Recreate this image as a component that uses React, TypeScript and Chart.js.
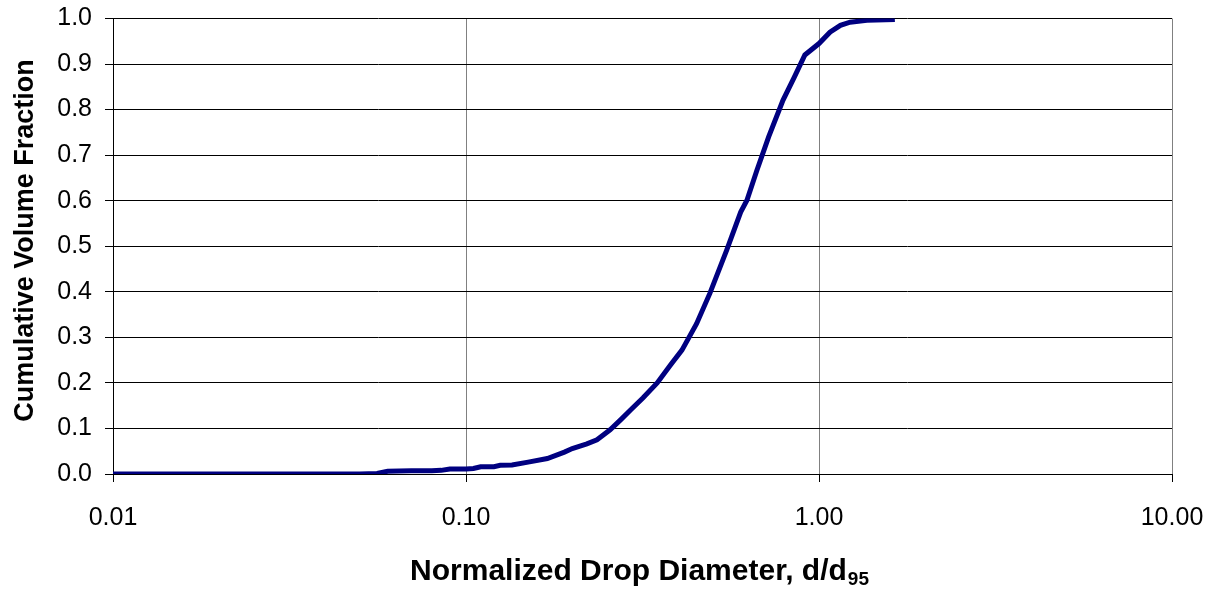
import { useEffect, useRef } from 'react';
import { Chart, registerables } from 'chart.js';

Chart.register(...registerables);

const diameters = [
  0.01, 0.02, 0.03, 0.04, 0.05, 0.056, 0.06, 0.07, 0.08, 0.085, 0.09, 0.1, 0.105, 0.11, 0.12,
  0.125, 0.135, 0.15, 0.17, 0.19, 0.2, 0.22, 0.235, 0.256, 0.275, 0.292, 0.317, 0.348, 0.38,
  0.409, 0.45, 0.491, 0.548, 0.6, 0.625, 0.667, 0.72, 0.791, 0.85, 0.912, 1.0, 1.074, 1.15,
  1.225, 1.367, 1.64,
];
const cumulative = [
  0, 0, 0, 0, 0, 0.001, 0.006, 0.007, 0.007, 0.008, 0.011, 0.011, 0.012, 0.016, 0.016,
  0.019, 0.02, 0.026, 0.034, 0.048, 0.056, 0.066, 0.075, 0.097, 0.12, 0.14, 0.167, 0.2, 0.24,
  0.272, 0.33, 0.397, 0.492, 0.575, 0.601, 0.667, 0.74, 0.821, 0.87, 0.92, 0.945, 0.97, 0.985,
  0.992, 0.996, 0.998,
];
const xTickValues = [0.01, 0.1, 1, 10];
const yTitle = 'Cumulative Volume Fraction';
const xTitleMain = 'Normalized Drop Diameter, d/d';
const xTitleSub = '95';

const FONT = "'Liberation Sans', Arial, sans-serif";

export default function App() {
  const ref = useRef<HTMLCanvasElement | null>(null);
  useEffect(() => {
    if (!ref.current) return;
    const titlesPlugin = {
      id: 'axisTitles',
      afterDraw(chart: any) {
        const ctx = chart.ctx;
        ctx.save();
        ctx.fillStyle = '#000';
        // x-axis title with subscript
        ctx.textBaseline = 'alphabetic';
        ctx.textAlign = 'left';
        ctx.font = `bold 30px ${FONT}`;
        const w1 = ctx.measureText(xTitleMain).width;
        ctx.font = `bold 19px ${FONT}`;
        const w2 = ctx.measureText(xTitleSub).width;
        const x0 = 639 - (w1 + w2) / 2;
        const base = 580;
        ctx.font = `bold 30px ${FONT}`;
        ctx.fillText(xTitleMain, x0, base);
        ctx.font = `bold 19px ${FONT}`;
        ctx.fillText(xTitleSub, x0 + w1 + 1, base + 5);
        // y-axis title
        ctx.translate(33, 240.5);
        ctx.rotate(-Math.PI / 2);
        ctx.textAlign = 'center';
        ctx.textBaseline = 'alphabetic';
        ctx.font = `bold 27px ${FONT}`;
        ctx.fillText(yTitle, 0, 0);
        ctx.restore();
      },
    };
    const chart = new Chart(ref.current, {
      type: 'line',
      data: {
        datasets: [
          {
            data: diameters.map((d, i) => ({ x: d, y: cumulative[i] })),
            borderColor: '#000080',
            borderWidth: 5,
            pointRadius: 0,
            tension: 0,
            fill: false,
          },
        ],
      },
      options: {
        responsive: false,
        animation: false,
        layout: { padding: { top: 18.5, right: 45, left: 0, bottom: 0 } },
        plugins: { legend: { display: false }, tooltip: { enabled: false } },
        scales: {
          x: {
            type: 'logarithmic',
            min: 0.01,
            max: 10,
            afterBuildTicks: (axis: any) => {
              axis.ticks = xTickValues.map((v) => ({ value: v }));
            },
            afterFit: (scale: any) => {
              scale.height = 118;
              scale.paddingLeft = 0;
              scale.paddingRight = 0;
            },
            ticks: {
              autoSkip: false,
              maxRotation: 0,
              color: '#000',
              padding: 21,
              font: { family: FONT, size: 25 },
              callback: (v: any) => Number(v).toFixed(2),
            },
            grid: { color: '#808080', lineWidth: 1, tickLength: 8, tickColor: '#000' },
            border: { color: '#000', width: 1 },
          },
          y: {
            min: 0,
            max: 1,
            afterFit: (scale: any) => {
              scale.width = 113;
              scale.paddingTop = 0;
              scale.paddingBottom = 0;
            },
            ticks: {
              stepSize: 0.1,
              color: '#000',
              padding: 13,
              font: { family: FONT, size: 25 },
              callback: (v: any) => Number(v).toFixed(1),
            },
            grid: { color: '#000', lineWidth: 1, tickLength: 8 },
            border: { color: '#000', width: 1 },
          },
        },
      },
      plugins: [titlesPlugin],
    } as any);
    return () => chart.destroy();
  }, []);
  return (
    <div style={{ position: 'fixed', left: 0, top: 0, width: 1217, height: 592, background: '#fff' }}>
      <canvas ref={ref} width={1217} height={592} />
    </div>
  );
}
